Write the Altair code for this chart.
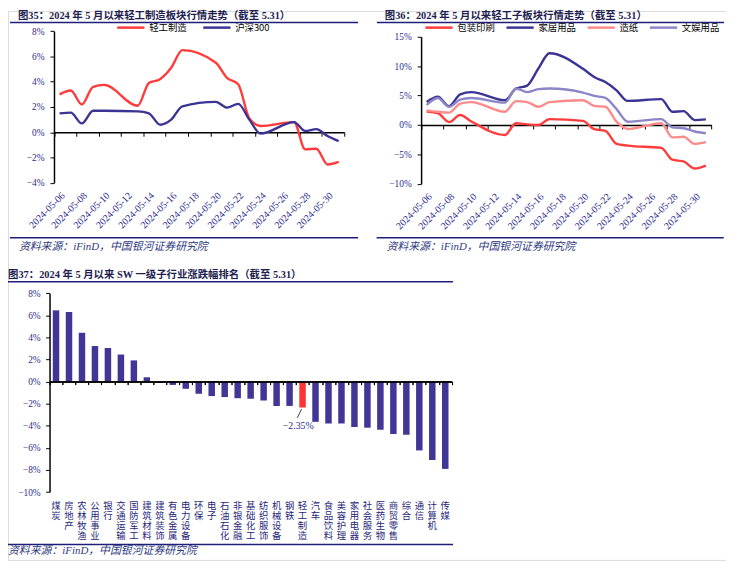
import json
import altair as alt
import pandas as pd

# ---------------- data ----------------
trade_dates = ["2024-05-06", "2024-05-07", "2024-05-08", "2024-05-09", "2024-05-10",
               "2024-05-13", "2024-05-14", "2024-05-15", "2024-05-16", "2024-05-17",
               "2024-05-20", "2024-05-21", "2024-05-22", "2024-05-23", "2024-05-24",
               "2024-05-27", "2024-05-28", "2024-05-29", "2024-05-30", "2024-05-31"]
axis_end_date = "2024-06-01"

series_a = ["轻工制造", "沪深300"]
light_industry = [3.0, 3.3, 2.2, 3.6, 3.75, 2.1, 3.9, 4.2, 5.1, 6.5,
                  5.5, 4.3, 3.8, 1.1, 0.5, 0.8, -1.35, -1.3, -2.55, -2.35]
hs300 = [1.5, 1.55, 0.7, 1.7, 1.7, 1.65, 1.5, 0.6, 1.0, 2.05,
         2.4, 1.95, 2.25, 1.0, -0.1, 0.8, 0.1, 0.25, -0.3, -0.7]

series_b = ["包装印刷", "家居用品", "造纸", "文娱用品"]
packaging = [2.3, 2.0, 0.5, 1.7, 0.6, -1.7, 0.3, 0.1, 0.0, 1.0,
             0.7, -0.7, -1.0, -3.2, -3.5, -3.9, -5.9, -6.2, -7.4, -6.9]
home_goods = [3.9, 4.8, 3.2, 5.2, 5.6, 4.2, 6.2, 6.7, 9.6, 12.2,
              9.55, 8.15, 7.3, 5.9, 4.1, 4.4, 2.25, 2.36, 0.84, 0.95]
paper = [2.5, 2.25, 2.1, 3.65, 3.9, 2.25, 4.05, 3.9, 3.1, 3.9,
         4.2, 3.25, 3.1, 0.56, -0.67, 0.3, -2.1, -2.0, -3.2, -2.9]
leisure = [3.4, 4.6, 3.1, 4.3, 4.6, 3.8, 6.2, 5.6, 6.1, 6.2,
           5.5, 4.95, 4.6, 2.7, 0.56, 1.0, -0.4, -0.55, -1.1, -1.4]

date_tick_labels = ["2024-05-06", "2024-05-08", "2024-05-10", "2024-05-12", "2024-05-14",
                    "2024-05-16", "2024-05-18", "2024-05-20", "2024-05-22", "2024-05-24",
                    "2024-05-26", "2024-05-28", "2024-05-30"]

industries = ["煤炭", "房地产", "农林牧渔", "公用事业", "银行", "交通运输", "国防军工", "建筑材料",
              "建筑装饰", "有色金属", "电力设备", "环保", "电子", "石油石化", "非银金融", "基础化工",
              "纺织服饰", "机械设备", "钢铁", "轻工制造", "汽车", "食品饮料", "美容护理", "家用电器",
              "社会服务", "医药生物", "商贸零售", "综合", "通信", "计算机", "传媒"]
changes = [6.45, 6.3, 4.42, 3.22, 3.04, 2.45, 1.92, 0.39,
           -0.12, -0.3, -0.65, -1.1, -1.31, -1.4, -1.5, -1.55,
           -1.7, -2.2, -2.2, -2.35, -3.64, -3.79, -3.79, -4.1,
           -4.17, -4.35, -4.74, -4.8, -6.23, -7.1, -7.9]
highlight_industry = "轻工制造"

title_a = "图35：2024 年 5 月以来轻工制造板块行情走势（截至 5.31）"
title_b = "图36：2024 年 5 月以来轻工子板块行情走势（截至 5.31）"
title_c = "图37：2024 年 5 月以来 SW 一级子行业涨跌幅排名（截至 5.31）"
source_text = "资料来源：iFinD，中国银河证券研究院"

# ---------------- style / layout ----------------
W, H = 726, 555
SERIF = "Liberation Serif, Noto Sans CJK SC"
CJK = "Noto Sans CJK SC"
TICK_TXT = "#2B2B8E"
TITLE_TXT = "#1E1E50"
RULE_NAVY = "#1F1F7A"
SRC_TXT = "#2E3A80"
colors_a = ["#FF3B3B", "#3C3494"]
colors_b = ["#FF3B3B", "#3C3494", "#FF8A8A", "#8C85C8"]
BAR_NAVY = "#413696"
BAR_RED = "#FF3333"

A_X, A_Y, A_DOM = (46.5, 340.0), (173.7, 20.3), (-4, 8)
B_X, B_Y, B_DOM = (417.7, 711.3), (174.7, 26.0), (-10, 15)
C_X, C_Y, C_DOM = (42.0, 448.7), (486.4, 285.3), (-10, 8)


def ypix(rng, dom, v):
    return rng[0] + (v - dom[0]) / (dom[1] - dom[0]) * (rng[1] - rng[0])


start = pd.Timestamp(trade_dates[0])


def day_of(s):
    return (pd.Timestamp(s) - start).days


x_days_end = day_of(axis_end_date)
pct_expr = "(datum.value < 0 ? '−' : '') + abs(datum.value) + '%'"
date_map = {str(day_of(l)): l for l in date_tick_labels}
date_expr = json.dumps(date_map, ensure_ascii=False) + "[datum.value]"


def long_df(names, arrays):
    rows = []
    for n, arr in zip(names, arrays):
        for d, v in zip(trade_dates, arr):
            rows.append({"day": day_of(d) + 0.5, "series": n, "value": v})
    return pd.DataFrame(rows)


df_a = long_df(series_a, [light_industry, hs300])
df_b = long_df(series_b, [packaging, home_goods, paper, leisure])
df_c = pd.DataFrame({"industry": industries, "change": changes})


def y_axis_for(xr, dom, step, pad):
    return alt.Axis(orient="left", offset=-xr[0], values=list(range(dom[0], dom[1] + 1, step)),
                    labelExpr=pct_expr, tickSize=4, labelPadding=pad, domain=True, domainColor="black",
                    domainWidth=1.5, ticks=True, tickColor="black", grid=False, title=None,
                    labelFlush=False, labelOverlap=False,
                    labelFont=SERIF, labelFontSize=9.5, labelColor=TICK_TXT)


def line_panel(df, names, colors, xr, yr, dom, ystep, legend_x, legend_pad):
    xs = alt.Scale(domain=[0, x_days_end], range=list(xr), nice=False, zero=False)
    ys = alt.Scale(domain=list(dom), range=list(yr), nice=False, zero=False)
    cs = alt.Scale(domain=names, range=colors)
    zero_y = ypix(yr, dom, 0)
    zero_axis = alt.Axis(orient="bottom", offset=zero_y - H, values=list(range(0, x_days_end + 1, 2)),
                         labels=False, ticks=True, tickSize=4, domain=True, domainColor="black",
                         domainWidth=1.5, tickColor="black", tickWidth=1, grid=False, title=None)
    label_axis = alt.Axis(orient="bottom", offset=yr[0] - H, values=[day_of(l) for l in date_tick_labels],
                          labelExpr=date_expr, labelAngle=-45, labelAlign="right", labelBaseline="middle",
                          labelOffset=9, labelPadding=11, labelFlush=False, labelOverlap=False,
                          domain=False, ticks=False, grid=False, title=None,
                          labelFont=SERIF, labelFontSize=10, labelColor=TICK_TXT)
    y_axis = y_axis_for(xr, dom, ystep, 6)
    legend = alt.Legend(orient="none", legendX=legend_x, legendY=1, direction="horizontal", title=None,
                        symbolType="stroke", symbolSize=760, symbolStrokeWidth=2.5, labelFont=CJK,
                        labelFontSize=9.5, labelColor="black", labelOffset=3, columnPadding=legend_pad,
                        padding=0)
    base = alt.Chart(df).mark_line(strokeWidth=2.4, interpolate="monotone")
    first = base.transform_filter(alt.datum.series == names[0]).encode(
        x=alt.X("day:Q", scale=xs, axis=zero_axis),
        y=alt.Y("value:Q", scale=ys, axis=y_axis),
        color=alt.Color("series:N", scale=cs, legend=legend),
    )
    rest = base.transform_filter(alt.datum.series != names[0]).encode(
        x=alt.X("day:Q", scale=xs, axis=label_axis),
        y=alt.Y("value:Q", scale=ys, axis=y_axis),
        color=alt.Color("series:N", scale=cs, legend=legend),
    )
    return alt.layer(first, rest).resolve_axis(x="independent")


panel_a = line_panel(df_a, series_a, colors_a, A_X, A_Y, A_DOM, 2, 108.7, 10)
panel_b = line_panel(df_b, series_b, colors_b, B_X, B_Y, B_DOM, 5, 420.3, 5)

# ---- bar panel ----
xc = alt.Scale(domain=industries, range=list(C_X), paddingInner=0, paddingOuter=0)
yc = alt.Scale(domain=list(C_DOM), range=list(C_Y), nice=False, zero=False)
zero_c = ypix(C_Y, C_DOM, 0)
zero_axis_c = alt.Axis(orient="bottom", offset=zero_c - H, labels=False, tickBand="extent", tickSize=3,
                       domainColor="black", domainWidth=1.5, tickColor="black", grid=False, title=None,
                       zindex=1)
label_axis_c = alt.Axis(orient="bottom", offset=C_Y[0] - H, domain=False, ticks=False,
                        labelExpr="split(datum.label, '')", labelAngle=0, labelAlign="center",
                        labelBaseline="top", labelPadding=9, labelFont=CJK, labelFontSize=9.5,
                        labelLineHeight=10, labelColor="#1F1F7A", labelOverlap=False, labelFlush=False,
                        grid=False, title=None)
y_axis_c = y_axis_for(C_X, C_DOM, 2, 5.5)

bars = alt.Chart(df_c).mark_bar(width=alt.RelativeBandSize(0.5)).encode(
    x=alt.X("industry:N", scale=xc, sort=None, axis=zero_axis_c),
    y=alt.Y("change:Q", scale=yc, axis=y_axis_c),
    color=alt.condition(alt.datum.industry == highlight_industry, alt.value(BAR_RED), alt.value(BAR_NAVY)),
)
ann = alt.Chart(df_c).transform_filter(alt.datum.industry == highlight_industry).transform_calculate(
    label="(datum.change < 0 ? '−' : '') + format(abs(datum.change), '.2f') + '%'"
)
ann_text = ann.mark_text(dx=-4.4, dy=19, font=SERIF, fontSize=10, color=TICK_TXT,
                         align="center", baseline="middle").encode(
    x=alt.X("industry:N", scale=xc, sort=None, axis=label_axis_c),
    y=alt.Y("change:Q", scale=yc, axis=y_axis_c),
    text="label:N",
)
ann_rule = ann.mark_rule(color="#404040", strokeWidth=1, xOffset=-1, yOffset=1.5,
                         x2Offset=-5.2, y2Offset=10.3).encode(
    x=alt.X("industry:N", scale=xc, sort=None, axis=zero_axis_c, bandPosition=0.5),
    x2=alt.X2("industry:N", bandPosition=0.5),
    y=alt.Y("change:Q", scale=yc, axis=y_axis_c),
    y2="change:Q",
)
panel_c = alt.layer(bars, ann_rule, ann_text).resolve_axis(x="independent")

# ---- decorations (titles, separator rules, sources) ----
one = pd.DataFrame({"k": [0]})


def txt(text, x, y, size, weight="normal", style="normal", color=TITLE_TXT):
    return alt.Chart(one).mark_text(align="left", baseline="middle", fontSize=size, fontWeight=weight,
                                    fontStyle=style, color=color, font=SERIF).encode(
        x=alt.value(x), y=alt.value(y), text=alt.value(text))


def hline(x1, x2, y, width=1.5):
    return alt.Chart(one).mark_rule(color=RULE_NAVY, strokeWidth=width).encode(
        x=alt.value(x1), x2=alt.value(x2), y=alt.value(y))


decor = [
    txt(title_a, 10, 5.5, 10.5, "bold"), hline(2, 354, 11.5),
    txt(title_b, 381, 5.5, 10.5, "bold"), hline(373, 724, 11.5),
    hline(2, 354, 229.3), txt(source_text, 11, 238.7, 11, style="italic", color=SRC_TXT),
    hline(372.7, 723.7, 229.3), txt(source_text, 382.7, 238.7, 11, style="italic", color=SRC_TXT),
    txt(title_c, 0, 267, 10.5, "bold"), hline(0, 450, 273.7),
    hline(0, 450, 539.3), txt(source_text, 0, 546, 11, style="italic", color=SRC_TXT),
]

chart = alt.layer(panel_a, panel_b, panel_c, *decor).resolve_scale(
    x="independent", y="independent", color="independent"
).resolve_axis(x="independent", y="independent").resolve_legend(color="independent").properties(
    width=W, height=H, autosize=alt.AutoSizeParams(type="none"), padding=0
).configure_view(stroke=None).configure(background="white")

chart.save("out.html", embed_options={"renderer": "svg", "actions": False})
